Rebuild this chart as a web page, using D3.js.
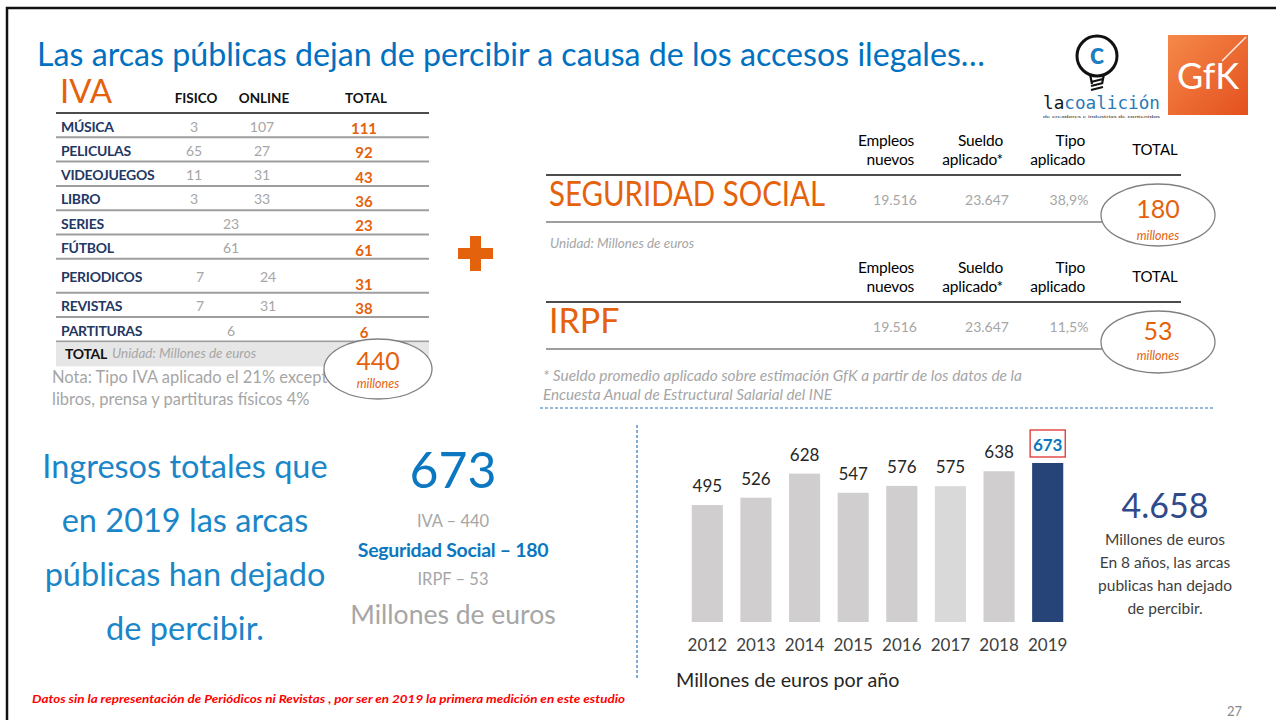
<!DOCTYPE html>
<html>
  <head>
    <meta charset="utf-8">
    <title>Arcas públicas</title>
    <style>
      body { margin: 0; background: white; }
      svg { display: block; font-family: Lato, "Open Sans", sans-serif; }
    </style>
  </head>
  <body>
    <div id="chart"></div>
    <script src="https://d3js.org/d3.v7.min.js"></script>
    <script>
      // ---- data ----
      var ivaCats = ["MÚSICA", "PELICULAS", "VIDEOJUEGOS", "LIBRO", "SERIES", "FÚTBOL", "PERIODICOS", "REVISTAS", "PARTITURAS"];
      var ivaFisico = [3, 65, 11, 3, null, null, 7, 7, null];
      var ivaOnline = [107, 27, 31, 33, null, null, 24, 31, null];
      var ivaSingle = [null, null, null, null, 23, 61, null, null, 6];
      var ivaTotal = [111, 92, 43, 36, 23, 61, 31, 38, 6];
      var ivaSum = 440;

      var cotHeaders = [["Empleos", "nuevos"], ["Sueldo", "aplicado*"], ["Tipo", "aplicado"]];
      var ssValues = ["19.516", "23.647", "38,9%"];
      var irpfValues = ["19.516", "23.647", "11,5%"];
      var ssTotal = 180;
      var irpfTotal = 53;

      var years = ["2012", "2013", "2014", "2015", "2016", "2017", "2018", "2019"];
      var yearValues = [495, 526, 628, 547, 576, 575, 638, 673];
      var totalEightYears = "4.658";

      var orange = "#e5620d", blue = "#0070c0", navy = "#1f3864", gray = "#a6a6a6";

      var svg = d3.select("#chart").append("svg")
        .attr("width", 1276)
        .attr("height", 720);

      // frame
      svg.append("path")
        .attr("d", "M7,720 V8 H1276")
        .attr("fill", "none")
        .attr("stroke", "#111")
        .attr("stroke-width", 2.5);

      // title
      svg.append("text")
        .attr("x", 37).attr("y", 66)
        .attr("font-size", 32)
        .attr("fill", blue)
        .attr("textLength", 948)
        .attr("lengthAdjust", "spacingAndGlyphs")
        .text("Las arcas públicas dejan de percibir a causa de los accesos ilegales…");

      // ---- logos ----
      var logo = svg.append("g");
      logo.append("circle").attr("cx", 1097).attr("cy", 56).attr("r", 20)
        .attr("fill", "none").attr("stroke", "#111").attr("stroke-width", 3);
      logo.append("path")
        .attr("d", "M1090,74 L1092,84 M1104,74 L1102,84 M1091,82 L1103,79 M1091,86 L1103,83 M1091,90 L1103,87")
        .attr("stroke", "#111").attr("stroke-width", 2.2).attr("fill", "none");
      logo.append("text").attr("x", 1097).attr("y", 64).attr("text-anchor", "middle")
        .attr("font-size", 30).attr("font-weight", "bold").attr("fill", "#1f7dc1").text("c");
      var lc = logo.append("text").attr("x", 1043).attr("y", 108.5)
        .attr("font-family", "'DejaVu Sans Mono', monospace").attr("font-size", 17)
        .attr("textLength", 117).attr("lengthAdjust", "spacingAndGlyphs");
      lc.append("tspan").attr("fill", "#111").text("la");
      lc.append("tspan").attr("fill", "#2a7ab8").text("coalición");
      logo.append("text").attr("x", 1043).attr("y", 118)
        .attr("font-size", 4.6).attr("fill", "#333")
        .attr("textLength", 117).attr("lengthAdjust", "spacingAndGlyphs")
        .text("de creadores e industrias de contenidos");

      var grad = svg.append("defs").append("linearGradient").attr("id", "gfk")
        .attr("x1", "0").attr("y1", "0").attr("x2", "1").attr("y2", "1");
      grad.append("stop").attr("offset", "0").attr("stop-color", "#f5894a");
      grad.append("stop").attr("offset", "1").attr("stop-color", "#e4501e");
      logo.append("rect").attr("x", 1168).attr("y", 35).attr("width", 80).attr("height", 80)
        .attr("fill", "url(#gfk)");
      logo.append("line").attr("x1", 1246).attr("y1", 37).attr("x2", 1222).attr("y2", 61)
        .attr("stroke", "white").attr("stroke-width", 1.5).attr("opacity", 0.9);
      logo.append("text").attr("x", 1208).attr("y", 89).attr("text-anchor", "middle")
        .attr("font-size", 36).attr("fill", "white").attr("textLength", 62)
        .attr("lengthAdjust", "spacingAndGlyphs").text("GfK");

      // ---- IVA table ----
      var iva = svg.append("g");
      iva.append("text").attr("x", 60).attr("y", 103).attr("font-size", 33)
        .attr("fill", orange).text("IVA");
      var colX = { fis: 196, onl: 264, single: 231, tot: 366 };
      [["FISICO", colX.fis], ["ONLINE", colX.onl], ["TOTAL", colX.tot]].forEach(function(h) {
        iva.append("text").attr("x", h[1]).attr("y", 103).attr("text-anchor", "middle")
          .attr("font-size", 13.5).attr("font-weight", "bold").attr("fill", "#111").text(h[0]);
      });

      function rowH(i) { return ivaCats[i] === "PERIODICOS" ? 34 : 24.3; }
      var rowTop = [113];
      ivaCats.forEach(function(c, i) { rowTop.push(rowTop[i] + rowH(i)); });

      iva.append("line").attr("x1", 56).attr("x2", 429).attr("y1", 113).attr("y2", 113)
        .attr("stroke", "#111").attr("stroke-width", 1.3);

      var rows = iva.selectAll("g.row").data(ivaCats).enter().append("g").attr("class", "row");
      rows.append("line")
        .attr("x1", 56).attr("x2", 429)
        .attr("y1", function(d, i) { return rowTop[i + 1]; })
        .attr("y2", function(d, i) { return rowTop[i + 1]; })
        .attr("stroke", "#9e9e9e").attr("stroke-width", 2);
      rows.append("text")
        .attr("x", 61)
        .attr("y", function(d, i) { return rowTop[i] + rowH(i) / 2 + 6.4; })
        .attr("font-size", 14).attr("font-weight", "bold").attr("fill", navy)
        .attr("letter-spacing", -0.3)
        .text(function(d) { return d; });
      var valY = function(d, i) { return rowTop[i] + rowH(i) / 2 + 6.4; };
      rows.append("text")
        .attr("x", function(d, i) { return colX.fis + (i === 6 || i === 7 ? 4 : -2); })
        .attr("y", valY).attr("text-anchor", "middle")
        .attr("font-size", 14).attr("fill", gray)
        .text(function(d, i) { return ivaFisico[i] == null ? "" : ivaFisico[i]; });
      rows.append("text")
        .attr("x", function(d, i) { return colX.onl + (i === 6 || i === 7 ? 4 : -2); })
        .attr("y", valY).attr("text-anchor", "middle")
        .attr("font-size", 14).attr("fill", gray)
        .text(function(d, i) { return ivaOnline[i] == null ? "" : ivaOnline[i]; });
      rows.append("text")
        .attr("x", colX.single)
        .attr("y", valY).attr("text-anchor", "middle")
        .attr("font-size", 14).attr("fill", gray)
        .text(function(d, i) { return ivaSingle[i] == null ? "" : ivaSingle[i]; });
      rows.append("text")
        .attr("x", colX.tot - 2)
        .attr("y", function(d, i) { return rowTop[i] + rowH(i) - 3.3; })
        .attr("text-anchor", "middle")
        .attr("font-size", 15).attr("font-weight", "bold").attr("fill", orange)
        .text(function(d, i) { return ivaTotal[i]; });

      var lastTop = rowTop[ivaCats.length];
      iva.append("rect").attr("x", 56).attr("y", lastTop + 1).attr("width", 373).attr("height", 24)
        .attr("fill", "#e7e6e6");
      iva.append("text").attr("x", 65).attr("y", lastTop + 18).attr("font-size", 14)
        .attr("font-weight", "bold").attr("fill", "#111").attr("letter-spacing", -0.3).text("TOTAL");
      iva.append("text").attr("x", 112).attr("y", lastTop + 17).attr("font-size", 13.5)
        .attr("font-style", "italic").attr("fill", gray).text("Unidad: Millones de euros");
      iva.append("text").attr("x", 52).attr("y", 383).attr("font-size", 16.5).attr("fill", gray)
        .text("Nota: Tipo IVA aplicado el 21% excepto");
      iva.append("text").attr("x", 52).attr("y", 405).attr("font-size", 16.5).attr("fill", gray)
        .text("libros, prensa y partituras físicos 4%");

      function bubble(g, cx, cy, rx, ry, value, vDy, uDy) {
        g.append("ellipse").attr("cx", cx).attr("cy", cy).attr("rx", rx).attr("ry", ry)
          .attr("fill", "white").attr("stroke", "#808080").attr("stroke-width", 1.3);
        g.append("text").attr("x", cx).attr("y", cy + vDy).attr("text-anchor", "middle")
          .attr("font-size", 25).attr("fill", orange).text(value);
        g.append("text").attr("x", cx).attr("y", cy + uDy).attr("text-anchor", "middle")
          .attr("font-size", 12.5).attr("font-style", "italic").attr("fill", orange).text("millones");
      }
      bubble(iva, 378, 369, 54, 30, ivaSum, 1, 19);

      // plus sign
      svg.append("path")
        .attr("d", "M470,236 h11 v12 h12 v11 h-12 v12 h-11 v-12 h-12 v-11 h12 z")
        .attr("fill", orange);

      // ---- Seguridad Social / IRPF ----
      var cotX = [914, 1003, 1085];
      var valX = [895, 987, 1069];
      function cotBlock(top, name, values, total, nameLen, vDy, uDy) {
        var g = svg.append("g");
        cotHeaders.forEach(function(h, j) {
          var t = g.append("text").attr("x", cotX[j]).attr("y", top).attr("text-anchor", "end")
            .attr("font-size", 15.5).attr("fill", "#000").attr("letter-spacing", -0.2);
          t.append("tspan").attr("x", cotX[j]).text(h[0]);
          t.append("tspan").attr("x", cotX[j]).attr("dy", 19).text(h[1]);
        });
        g.append("text").attr("x", 1155).attr("y", top + 9).attr("text-anchor", "middle")
          .attr("font-size", 15).attr("fill", "#000").text("TOTAL");
        g.append("line").attr("x1", 546).attr("x2", 1181).attr("y1", top + 29).attr("y2", top + 29)
          .attr("stroke", "#111").attr("stroke-width", 1.3);
        var nm = g.append("text").attr("x", 549).attr("y", top + 60).attr("font-size", 34)
          .attr("fill", orange).text(name);
        if (nameLen) nm.attr("textLength", nameLen).attr("lengthAdjust", "spacingAndGlyphs");
        values.forEach(function(v, j) {
          g.append("text").attr("x", valX[j]).attr("y", top + 59).attr("text-anchor", "middle")
            .attr("font-size", 14).attr("fill", gray).text(v);
        });
        g.append("line").attr("x1", 546).attr("x2", 1104).attr("y1", top + 76).attr("y2", top + 76)
          .attr("stroke", "#9e9e9e").attr("stroke-width", 2);
        bubble(g, 1158, top + 69, 57, 31, total, vDy, uDy);
      }
      cotBlock(146, "SEGURIDAD SOCIAL", ssValues, ssTotal, 276, 3, 25);
      svg.append("text").attr("x", 550).attr("y", 248).attr("font-size", 13.5)
        .attr("font-style", "italic").attr("fill", gray).text("Unidad: Millones de euros");
      cotBlock(273, "IRPF", irpfValues, irpfTotal, null, -2, 18);
      svg.append("text").attr("x", 543).attr("y", 381).attr("font-size", 14.5)
        .attr("font-style", "italic").attr("fill", gray)
        .attr("textLength", 479).attr("lengthAdjust", "spacingAndGlyphs")
        .text("* Sueldo promedio aplicado sobre estimación GfK a partir de los datos de la");
      svg.append("text").attr("x", 543).attr("y", 400).attr("font-size", 14.5)
        .attr("font-style", "italic").attr("fill", gray)
        .attr("textLength", 289).attr("lengthAdjust", "spacingAndGlyphs")
        .text("Encuesta Anual de Estructural Salarial del INE");

      // dashed separators
      svg.append("line").attr("x1", 540).attr("x2", 1215).attr("y1", 408).attr("y2", 408)
        .attr("stroke", "#2e75b6").attr("stroke-width", 1.2).attr("stroke-dasharray", "3,2");
      svg.append("line").attr("x1", 637).attr("x2", 637).attr("y1", 425).attr("y2", 680)
        .attr("stroke", "#2e75b6").attr("stroke-width", 1.2).attr("stroke-dasharray", "3,2");

      // ---- bottom left summary ----
      var lightBlue = "#1a86c8";
      ["Ingresos totales que", "en 2019 las arcas", "públicas han dejado", "de percibir."].forEach(function(s, i) {
        svg.append("text").attr("x", 185).attr("y", 478 + i * 54).attr("text-anchor", "middle")
          .attr("font-size", 32.5).attr("fill", lightBlue).text(s);
      });
      svg.append("text").attr("x", 453).attr("y", 488).attr("text-anchor", "middle")
        .attr("font-size", 50).attr("fill", "#0b77c0").text(d3.sum([ivaSum, ssTotal, irpfTotal]));
      svg.append("text").attr("x", 453).attr("y", 527).attr("text-anchor", "middle")
        .attr("font-size", 16.5).attr("fill", gray).text("IVA – " + ivaSum);
      svg.append("text").attr("x", 453).attr("y", 557).attr("text-anchor", "middle")
        .attr("font-size", 19.5).attr("font-weight", "bold").attr("fill", "#0b77c0")
        .attr("letter-spacing", -0.3).text("Seguridad Social – " + ssTotal);
      svg.append("text").attr("x", 453).attr("y", 585).attr("text-anchor", "middle")
        .attr("font-size", 16.5).attr("fill", gray).text("IRPF – " + irpfTotal);
      svg.append("text").attr("x", 453).attr("y", 624).attr("text-anchor", "middle")
        .attr("font-size", 26.5).attr("fill", gray).text("Millones de euros");

      svg.append("text").attr("x", 32).attr("y", 703).attr("font-size", 12)
        .attr("font-weight", "bold").attr("font-style", "italic").attr("fill", "#ff0000")
        .attr("textLength", 593).attr("lengthAdjust", "spacingAndGlyphs")
        .text("Datos sin la representación de Periódicos ni Revistas , por ser en 2019  la primera medición en este estudio");

      // ---- bar chart ----
      var x = d3.scaleBand().domain(years).range([683, 1072]).paddingInner(0.36).paddingOuter(0.18);
      var y = d3.scaleLinear().domain([0, d3.max(yearValues)]).range([622, 463]);
      var barColor = function(d, i) {
        if (i === years.length - 1) return "#264478";
        if (d === "2017") return "#d9d9d9";
        return "#d0cece";
      };
      var chart = svg.append("g");
      chart.selectAll("rect.bar").data(years).enter().append("rect")
        .attr("class", "bar")
        .attr("x", function(d) { return x(d); })
        .attr("width", x.bandwidth())
        .attr("y", function(d, i) { return y(yearValues[i]); })
        .attr("height", function(d, i) { return y(0) - y(yearValues[i]); })
        .attr("fill", barColor);
      chart.selectAll("text.val").data(years.slice(0, -1)).enter().append("text")
        .attr("class", "val")
        .attr("x", function(d) { return x(d) + x.bandwidth() / 2; })
        .attr("y", function(d, i) { return y(yearValues[i]) - 13; })
        .attr("text-anchor", "middle").attr("font-size", 17).attr("fill", "#262626")
        .text(function(d, i) { return yearValues[i]; });
      var last = years[years.length - 1];
      var lastVal = yearValues[yearValues.length - 1];
      chart.append("rect")
        .attr("x", x(last) - 2).attr("y", y(lastVal) - 33)
        .attr("width", x.bandwidth() + 4).attr("height", 27)
        .attr("fill", "white").attr("stroke", "#e03030").attr("stroke-width", 1.3);
      chart.append("text")
        .attr("x", x(last) + x.bandwidth() / 2).attr("y", y(lastVal) - 12)
        .attr("text-anchor", "middle").attr("font-size", 17).attr("font-weight", "bold")
        .attr("fill", "#0b77c0").text(lastVal);

      var axis = chart.append("g").attr("transform", "translate(0,634)")
        .call(d3.axisBottom(x).tickSize(0).tickPadding(0));
      axis.select(".domain").remove();
      axis.selectAll("text").attr("font-family", "Lato").attr("font-size", 17).attr("fill", "#404040")
        .attr("dy", "1em");

      svg.append("text").attr("x", 676).attr("y", 687).attr("font-size", 19.7).attr("fill", "#262626")
        .text("Millones de euros por año");

      // right summary
      svg.append("text").attr("x", 1165).attr("y", 518).attr("text-anchor", "middle")
        .attr("font-size", 34).attr("fill", "#2f4a8a").text(totalEightYears);
      ["Millones de euros", "En 8 años, las arcas", "publicas han dejado", "de percibir."].forEach(function(s, i) {
        svg.append("text").attr("x", 1165).attr("y", 545 + i * 23).attr("text-anchor", "middle")
          .attr("font-size", 15.5).attr("fill", "#404040").text(s);
      });

      svg.append("text").attr("x", 1227).attr("y", 716).attr("font-size", 13).attr("fill", "#888")
        .text("27");
    </script>
  </body>
</html>
